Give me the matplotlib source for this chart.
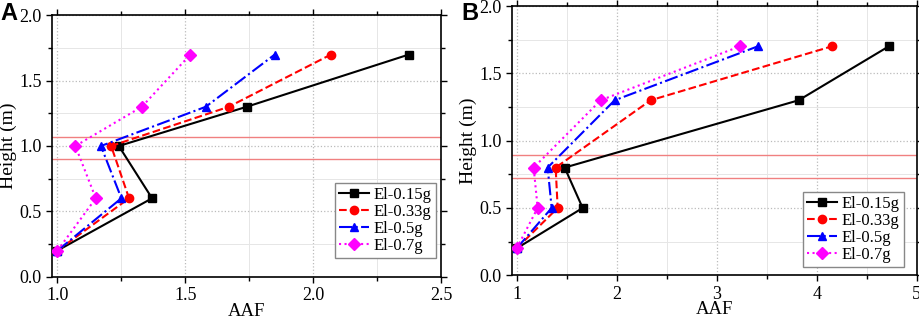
import matplotlib
matplotlib.use("Agg")
import matplotlib.pyplot as plt
from matplotlib.ticker import MultipleLocator

plt.rcParams['font.family'] = ['Liberation Serif', 'DejaVu Serif']

labels = ['El-0.15g', 'El-0.33g', 'El-0.5g', 'El-0.7g']

# panel A
height_a = [0.2, 0.6, 1.0, 1.3, 1.7]
aaf_a_015 = [1.0, 1.37, 1.24, 1.74, 2.375]
aaf_a_033 = [1.0, 1.28, 1.21, 1.67, 2.07]
aaf_a_05 = [1.0, 1.25, 1.17, 1.58, 1.85]
aaf_a_07 = [1.0, 1.15, 1.07, 1.33, 1.52]
hlines_a = [1.07, 0.90]

# panel B
height_b = [0.2, 0.5, 0.8, 1.3, 1.7]
aaf_b_015 = [1.0, 1.66, 1.48, 3.82, 4.72]
aaf_b_033 = [1.0, 1.41, 1.39, 2.34, 4.15]
aaf_b_05 = [1.0, 1.35, 1.31, 1.98, 3.41]
aaf_b_07 = [1.0, 1.21, 1.17, 1.84, 3.23]
hlines_b = [0.89, 0.72]

styles = [
    dict(color='black', ls='-', marker='s'),
    dict(color='red', ls='--', marker='o'),
    dict(color='blue', ls='-.', marker='^'),
    dict(color='magenta', ls=':', marker='D'),
]

fig = plt.figure(figsize=(9.2, 3.18), dpi=100)
axA = fig.add_axes([0.0569, 0.1299, 0.4224, 0.822])
axB = fig.add_axes([0.5568, 0.1343, 0.4396, 0.8468])


def draw(ax, h, series, hl, xlim, xmaj, xmin, anchor):
    for s, lab, st in zip(series, labels, styles):
        ax.plot(s, h, label=lab, lw=1.5, ms=6, zorder=3, **st)
    for y in hl:
        ax.axhline(y, color='#f08080', lw=1, zorder=2)
    ax.set_xlim(*xlim)
    ax.set_ylim(0, 2.0)
    ax.xaxis.set_major_locator(MultipleLocator(xmaj))
    ax.xaxis.set_minor_locator(MultipleLocator(xmin))
    ax.yaxis.set_major_locator(MultipleLocator(0.5))
    ax.yaxis.set_minor_locator(MultipleLocator(0.25))
    ax.grid(True, which='major', color='#bbbbbb', ls=':', lw=0.9)
    ax.grid(True, which='minor', color='#e6e6e6', ls='-', lw=0.7)
    ax.set_axisbelow(True)
    ax.tick_params(which='both', direction='out', right=True,
                   labelsize=13, width=1.0)
    ax.tick_params(axis='x', which='both', top=True, direction='in')
    ax.tick_params(axis='x', which='both', bottom=True, direction='out')
    ax.tick_params(which='major', length=4)
    ax.tick_params(which='minor', length=3)
    for sp in ax.spines.values():
        sp.set_linewidth(1.2)
    ax.set_xlabel('AAF', fontsize=13.5, labelpad=-1)
    ax.set_ylabel('Height (m)', fontsize=14, labelpad=2)
    leg = ax.legend(loc='lower right', bbox_to_anchor=anchor,
                    fontsize=12, fancybox=False, framealpha=1,
                    edgecolor='#888888', handlelength=1.8,
                    borderpad=0.25, labelspacing=0.05, handletextpad=0.3,
                    borderaxespad=0)
    leg.get_frame().set_linewidth(1.0)


draw(axA, height_a, [aaf_a_015, aaf_a_033, aaf_a_05, aaf_a_07], hlines_a,
     (0.98, 2.5), 0.5, 0.25, (0.987, 0.072))
axA.xaxis.set_major_formatter(lambda v, p: f'{v:.1f}')
axA.yaxis.set_major_formatter(lambda v, p: f'{v:.1f}')
draw(axB, height_b, [aaf_b_015, aaf_b_033, aaf_b_05, aaf_b_07], hlines_b,
     (0.956, 5), 1, 0.5, (0.9686, 0.031))
axB.yaxis.set_major_formatter(lambda v, p: f'{v:.1f}')

fig.text(0.0, 0.995, 'A', fontsize=17, fontweight='bold',
         family='Liberation Sans', va='top', ha='left')
fig.text(0.502, 0.995, 'B', fontsize=17, fontweight='bold',
         family='Liberation Sans', va='top', ha='left')

fig.savefig('out.png', dpi=100)
